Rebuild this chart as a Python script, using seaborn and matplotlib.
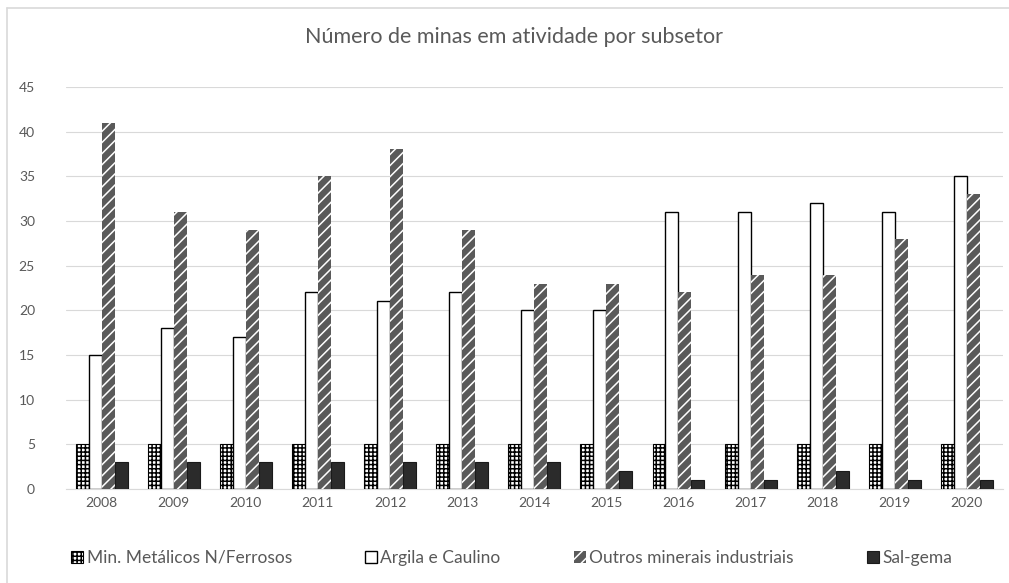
# -*- coding: utf-8 -*-

import pandas as pd
import matplotlib.pyplot as plt
import seaborn as sns
from matplotlib.lines import Line2D


anos = ['2008', '2009', '2010', '2011', '2012', '2013', '2014',
        '2015', '2016', '2017', '2018', '2019', '2020']
metalicos = [5, 5, 5, 5, 5, 5, 5, 5, 5, 5, 5, 5, 5]
argila = [15, 18, 17, 22, 21, 22, 20, 20, 31, 31, 32, 31, 35]
outros = [41, 31, 29, 35, 38, 29, 23, 23, 22, 24, 24, 28, 33]
sal_gema = [3, 3, 3, 3, 3, 3, 3, 2, 1, 1, 2, 1, 1]

subsetores = ['Min. Metálicos N/Ferrosos', 'Argila e Caulino',
              'Outros minerais industriais', 'Sal-gema']

TXT = '#595959'


def main():
    df = pd.DataFrame({'Ano': anos,
                       subsetores[0]: metalicos,
                       subsetores[1]: argila,
                       subsetores[2]: outros,
                       subsetores[3]: sal_gema})
    df = df.melt(id_vars='Ano', var_name='Subsetor', value_name='Minas')

    sns.set_style('white')
    plt.rcParams['font.family'] = ['Lato', 'DejaVu Sans']
    plt.rcParams['hatch.linewidth'] = 1.1

    fig = plt.figure(figsize=(10.09, 5.83), dpi=100)
    ax = fig.add_axes([0.065, 0.161, 0.929, 0.69])

    sns.barplot(data=df, x='Ano', y='Minas', hue='Subsetor', hue_order=subsetores,
                order=anos, palette=['white', 'white', '#595959', '#2b2b2b'],
                saturation=1, width=0.72, legend=False, ax=ax, zorder=3)

    # estilos por subsetor: (face, borda, hatch, espessura)
    estilos = [('white', 'black', '++++', 0.8),
               ('white', 'black', None, 1.0),
               ('#5a5a5a', 'white', '///', 0.0),
               ('#2b2b2b', '#1a1a1a', None, 0.8)]
    for cont, (fc, ec, h, lw) in zip(ax.containers, estilos):
        for p in cont:
            p.set_facecolor(fc)
            p.set_edgecolor(ec)
            p.set_hatch(h)
            p.set_linewidth(lw)
            p.set_zorder(3)

    ax.set_ylim(0, 45)
    ax.set_xlim(-0.5, 12.5)
    ax.set_yticks(range(0, 46, 5))
    ax.yaxis.grid(True, color='#d9d9d9', linewidth=0.8, zorder=0)
    ax.set_xlabel('')
    ax.set_ylabel('')
    ax.tick_params(axis='both', length=0, labelsize=10, colors=TXT)
    ax.tick_params(axis='y', pad=22)
    ax.tick_params(axis='x', pad=6)
    for s in ['top', 'right', 'left']:
        ax.spines[s].set_visible(False)
    ax.spines['bottom'].set_color('#d9d9d9')

    fig.text(0.509, 0.937, 'Número de minas em atividade por subsetor',
             ha='center', va='center', fontsize=15.5, color=TXT)

    handles = [c[0] for c in ax.containers]
    leg = fig.legend(handles, subsetores, loc='center', ncol=4,
                     bbox_to_anchor=(0.507, 0.043), frameon=False, fontsize=12.5,
                     handlelength=0.7, handleheight=0.7, handletextpad=0.2,
                     columnspacing=4.2)
    for t in leg.get_texts():
        t.set_color(TXT)

    # moldura da área do gráfico
    fig.add_artist(Line2D([0.007, 1.0], [0.986, 0.986], color='#d9d9d9', linewidth=1.2))
    fig.add_artist(Line2D([0.007, 0.007], [0.0, 0.986], color='#d9d9d9', linewidth=1.2))

    fig.savefig('out.png', dpi=100)


if __name__ == '__main__':
    main()
